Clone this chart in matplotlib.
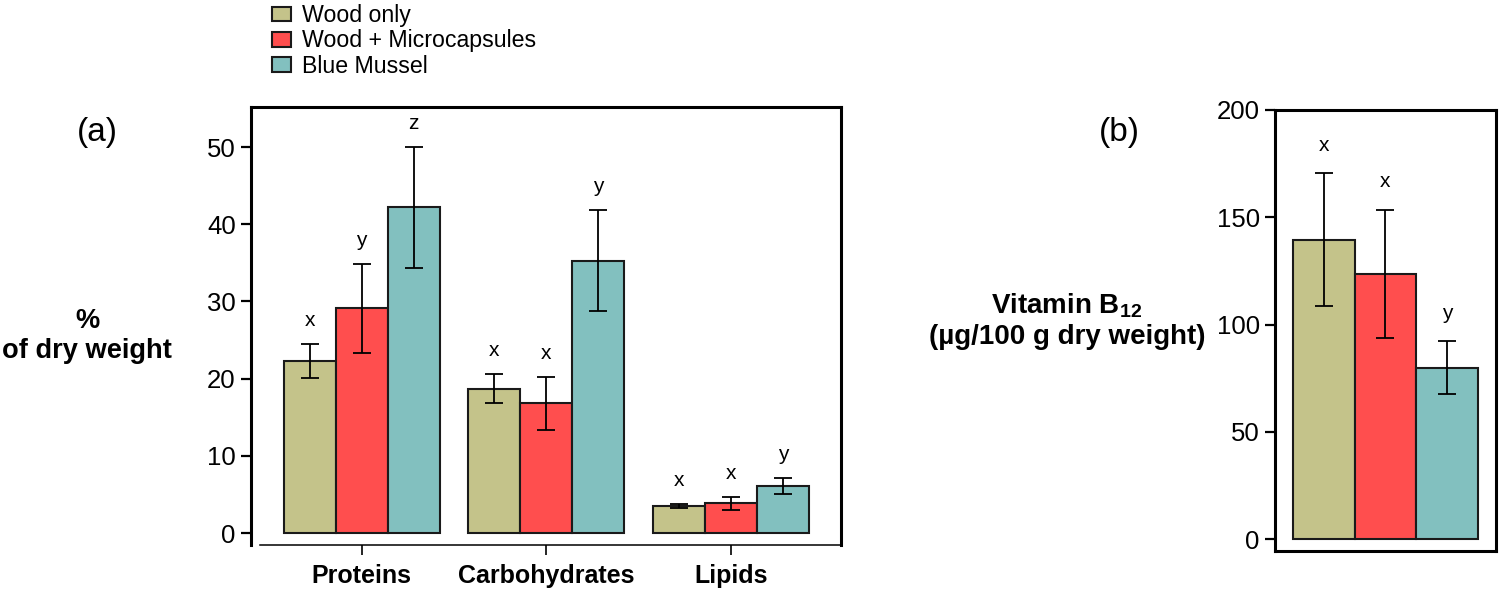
import numpy as np
import matplotlib
matplotlib.use('Agg')
import matplotlib.pyplot as plt

plt.rcParams['font.family'] = ['Liberation Sans', 'DejaVu Sans']
plt.rcParams['mathtext.fontset'] = 'custom'
plt.rcParams['mathtext.rm'] = 'Liberation Sans'
plt.rcParams['mathtext.bf'] = 'Liberation Sans:bold'

# ---------------------------------------------------------------------------
# Data
# ---------------------------------------------------------------------------
treatments = ['Wood only', 'Wood + Microcapsules', 'Blue Mussel']
colors = ['#C4C38A', '#FF4E4E', '#82C0BF']

nutrients = ['Proteins', 'Carbohydrates', 'Lipids']
# one row per treatment, one column per nutrient (% of dry weight)
comp_mean = [[22.3, 18.7, 3.5],
             [29.1, 16.8, 3.85],
             [42.2, 35.3, 6.1]]
comp_err = [[2.2, 1.9, 0.3],
            [5.8, 3.4, 0.8],
            [7.8, 6.5, 1.0]]
comp_letters = [['x', 'x', 'x'],
                ['y', 'x', 'x'],
                ['z', 'y', 'y']]

# vitamin B12 (ug/100 g dry weight)
b12_mean = [139.5, 123.7, 79.9]
b12_err = [31.0, 29.8, 12.3]
b12_letters = ['x', 'x', 'y']

EDGE = '#1a1a1a'
err_kw = dict(elinewidth=1.3, capthick=1.3, ecolor='black')

fig = plt.figure(figsize=(15, 5.91), dpi=100)

# ---------------------------------------------------------------------------
# (a) proximate composition
# ---------------------------------------------------------------------------
ax_a = fig.add_axes([0.1673, 0.0778, 0.3933, 0.741])
x = np.arange(len(nutrients))
width = 0.282
handles = []
for i, name in enumerate(treatments):
    pos = x + (i - 1) * width
    bars = ax_a.bar(pos, comp_mean[i], width, color=colors[i], edgecolor=EDGE,
                    linewidth=1.5, yerr=comp_err[i], capsize=6.5,
                    error_kw=err_kw, label=name)
    handles.append(bars)
    for p, m, e, lab in zip(pos, comp_mean[i], comp_err[i], comp_letters[i]):
        ax_a.annotate(lab, (p, m + e), xytext=(0, 17), textcoords='offset points',
                      ha='center', va='center', fontsize=15)

ax_a.set_xlim(-0.60, 2.596)
ax_a.set_ylim(-1.55, 55.18)
ax_a.set_yticks(np.arange(0, 51, 10))
ax_a.set_xticks(x)
ax_a.set_xticklabels(nutrients, fontsize=18, fontweight='bold')
ax_a.tick_params(axis='y', direction='out', length=7, width=1.6, labelsize=18.5, pad=4)
ax_a.tick_params(axis='x', direction='out', length=7, width=1.2, pad=7)
for side in ['left', 'top', 'right']:
    ax_a.spines[side].set_linewidth(2.2)
ax_a.spines['bottom'].set_linewidth(1.1)
ax_a.spines['bottom'].set_bounds(-0.553, 2.596)

# ---------------------------------------------------------------------------
# (b) vitamin B12
# ---------------------------------------------------------------------------
ax_b = fig.add_axes([0.85, 0.0677, 0.1473, 0.7462])
xb = np.arange(len(treatments))
ax_b.bar(xb, b12_mean, 1.0, color=colors, edgecolor=EDGE, linewidth=1.5,
         yerr=b12_err, capsize=6.5, error_kw=err_kw)
for p, m, e, lab in zip(xb, b12_mean, b12_err, b12_letters):
    ax_b.annotate(lab, (p, m + e), xytext=(0, 20), textcoords='offset points',
                  ha='center', va='center', fontsize=15)
ax_b.set_xlim(-0.8, 2.8)
ax_b.set_ylim(-5.58, 200)
ax_b.set_yticks(np.arange(0, 201, 50))
ax_b.set_xticks([])
ax_b.tick_params(axis='y', direction='out', length=7, width=1.6, labelsize=18.5, pad=4)
for side in ax_b.spines:
    ax_b.spines[side].set_linewidth(2.2)

# ---------------------------------------------------------------------------
# Labels and legend
# ---------------------------------------------------------------------------
fig.text(97 / 1500, 1 - 133 / 591, '(a)', fontsize=24, ha='center', va='center')
fig.text(1119 / 1500, 1 - 133 / 591, '(b)', fontsize=24, ha='center', va='center')
fig.text(87 / 1500, 1 - 336 / 591, '%\nof dry weight', fontsize=19.6,
         fontweight='bold', ha='center', va='center', multialignment='center',
         linespacing=1.25)
fig.text(1067 / 1500, 1 - 321 / 591,
         'Vitamin B$_{\\mathbf{12}}$\n(µg/100 g dry weight)', fontsize=20,
         fontweight='bold', ha='center', va='center', multialignment='center',
         linespacing=1.2)

fig.legend(handles, treatments, loc='upper left', bbox_to_anchor=(270 / 1500, 0.997),
           frameon=False, fontsize=16.7, handlelength=0.8, handleheight=0.6,
           handletextpad=0.5, labelspacing=0.1, borderpad=0.1, borderaxespad=0)

fig.savefig('out.png', dpi=100)
